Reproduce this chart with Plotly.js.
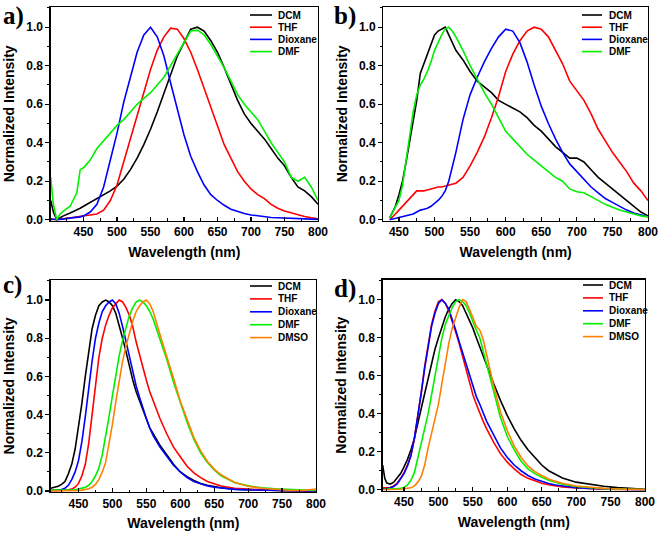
<!DOCTYPE html>
<html><head><meta charset="utf-8">
<script src="https://cdn.plot.ly/plotly-3.0.1.min.js"></script>
<style>html,body{margin:0;padding:0;background:#fff}#chart{width:661px;height:537px}</style>
</head><body><div id="chart"></div>
<script>
// ---------- data ----------
const solventsAB = ['DCM','THF','Dioxane','DMF'];
const solventsCD = ['DCM','THF','Dioxane','DMF','DMSO'];
const panelLabels = ['a)','b)','c)','d)'];

// panel a
const wlA = [401,405,410,415,420,430,440,445,450,460,470,480,490,500,510,520,530,540,550,560,570,580,590,600,610,620,630,640,650,660,670,680,690,700,710,720,730,740,750,760,770,780,790,800];
const dcmA = [0.10,0.04,0.0,0.01,0.02,0.035,0.05,0.06,0.07,0.09,0.11,0.13,0.15,0.175,0.21,0.26,0.32,0.39,0.47,0.56,0.66,0.76,0.85,0.92,0.99,1.0,0.98,0.93,0.87,0.79,0.7,0.62,0.55,0.5,0.46,0.42,0.37,0.32,0.28,0.22,0.17,0.15,0.12,0.08];
const thfA = [0,0,0,0.003,0.005,0.01,0.015,0.018,0.02,0.025,0.03,0.05,0.1,0.18,0.3,0.43,0.55,0.66,0.78,0.88,0.95,0.995,0.99,0.94,0.87,0.78,0.68,0.58,0.48,0.39,0.32,0.25,0.2,0.16,0.13,0.11,0.08,0.06,0.045,0.035,0.025,0.017,0.01,0.005];
const dioxA = [0.005,0.003,0,0.002,0.004,0.008,0.012,0.015,0.02,0.04,0.08,0.17,0.31,0.45,0.61,0.74,0.87,0.96,1.0,0.95,0.85,0.71,0.57,0.44,0.33,0.25,0.18,0.13,0.1,0.075,0.055,0.042,0.032,0.025,0.02,0.015,0.012,0.01,0.008,0.006,0.005,0.004,0.003,0.002];
const dmfA = [0.22,0.08,0.0,0.03,0.045,0.07,0.14,0.26,0.27,0.31,0.37,0.41,0.45,0.49,0.52,0.56,0.6,0.63,0.66,0.7,0.74,0.8,0.86,0.92,0.98,0.985,0.96,0.91,0.85,0.79,0.72,0.65,0.6,0.56,0.52,0.46,0.4,0.35,0.3,0.22,0.2,0.22,0.17,0.1];

// panel b
const wlB = [437,440,445,450,455,460,465,470,475,480,485,490,495,500,505,510,515,520,525,530,540,550,560,570,580,590,600,610,620,630,640,650,660,670,680,690,700,710,720,730,740,750,760,770,780,790,800];
const dcmB = [0.01,0.03,0.07,0.13,0.2,0.3,0.4,0.5,0.62,0.76,0.81,0.85,0.9,0.96,0.98,0.99,1.0,0.96,0.92,0.88,0.83,0.77,0.72,0.69,0.66,0.62,0.6,0.58,0.56,0.53,0.49,0.46,0.42,0.38,0.35,0.32,0.32,0.3,0.26,0.22,0.19,0.16,0.13,0.1,0.07,0.04,0.02];
const thfB = [0,0.01,0.03,0.05,0.07,0.09,0.11,0.13,0.15,0.15,0.15,0.155,0.16,0.165,0.17,0.17,0.175,0.18,0.185,0.19,0.22,0.28,0.35,0.43,0.53,0.64,0.77,0.86,0.93,0.98,1.0,0.99,0.95,0.88,0.81,0.72,0.67,0.62,0.55,0.47,0.41,0.35,0.3,0.25,0.19,0.15,0.1];
const dioxB = [0,0.003,0.006,0.01,0.015,0.02,0.025,0.03,0.04,0.05,0.055,0.06,0.07,0.085,0.1,0.12,0.15,0.2,0.27,0.35,0.52,0.65,0.74,0.82,0.89,0.95,0.99,0.98,0.92,0.82,0.7,0.59,0.5,0.42,0.35,0.29,0.25,0.21,0.17,0.14,0.11,0.09,0.07,0.05,0.035,0.025,0.015];
const dmfB = [0.01,0.03,0.06,0.1,0.18,0.3,0.43,0.56,0.65,0.7,0.73,0.77,0.82,0.88,0.92,0.96,0.99,1.0,0.98,0.95,0.88,0.8,0.73,0.66,0.6,0.53,0.46,0.42,0.38,0.34,0.31,0.28,0.25,0.22,0.2,0.16,0.145,0.14,0.12,0.1,0.08,0.065,0.05,0.04,0.03,0.02,0.015];

// panel c
const wlC = [409,415,420,425,430,435,440,445,450,455,460,465,470,475,480,485,490,495,500,505,510,515,520,525,530,535,540,545,550,555,560,570,580,590,600,610,620,630,640,650,660,680,700,720,740,760,780,800];
const dcmC = [0.015,0.02,0.025,0.035,0.05,0.09,0.14,0.22,0.33,0.46,0.6,0.74,0.85,0.92,0.97,0.99,1.0,0.99,0.97,0.93,0.87,0.8,0.73,0.65,0.58,0.52,0.47,0.42,0.38,0.33,0.3,0.24,0.19,0.14,0.1,0.075,0.055,0.04,0.03,0.022,0.017,0.01,0.007,0.005,0.003,0.002,0.001,0.0];
const thfC = [0.002,0.002,0.003,0.004,0.005,0.007,0.01,0.02,0.04,0.08,0.14,0.25,0.4,0.56,0.7,0.8,0.87,0.92,0.96,0.98,1.0,0.99,0.96,0.92,0.86,0.78,0.71,0.64,0.58,0.52,0.47,0.38,0.3,0.23,0.18,0.13,0.095,0.07,0.05,0.036,0.026,0.015,0.009,0.006,0.004,0.003,0.002,0.001];
const dioxC = [0.003,0.004,0.005,0.008,0.015,0.03,0.06,0.1,0.16,0.26,0.39,0.54,0.68,0.8,0.88,0.94,0.97,0.99,1.0,0.98,0.93,0.86,0.78,0.7,0.62,0.55,0.49,0.43,0.38,0.33,0.29,0.23,0.18,0.135,0.1,0.07,0.05,0.037,0.027,0.02,0.015,0.009,0.006,0.004,0.003,0.002,0.001,0.0];
const dmfC = [0.005,0.005,0.005,0.005,0.005,0.005,0.005,0.007,0.01,0.015,0.02,0.03,0.05,0.08,0.12,0.19,0.28,0.39,0.5,0.61,0.71,0.79,0.86,0.92,0.96,0.99,1.0,0.99,0.97,0.94,0.9,0.8,0.69,0.57,0.46,0.36,0.27,0.2,0.15,0.11,0.08,0.045,0.027,0.017,0.012,0.008,0.005,0.003];
const dmsoC = [0,0,0,0,0,0,0,0.002,0.003,0.005,0.008,0.012,0.02,0.035,0.06,0.1,0.15,0.24,0.35,0.47,0.58,0.68,0.76,0.83,0.89,0.94,0.97,0.99,1.0,0.98,0.94,0.82,0.71,0.59,0.47,0.37,0.28,0.21,0.155,0.115,0.085,0.045,0.025,0.015,0.008,0.004,0.003,0.01];

// panel d
const wlD = [419,422,425,430,435,440,445,450,455,460,465,470,475,480,485,490,495,500,505,510,515,520,525,530,535,540,545,550,555,560,565,570,580,590,600,610,620,630,640,650,660,670,680,700,720,740,760,780,800];
const dcmD = [0.13,0.06,0.035,0.03,0.04,0.06,0.085,0.12,0.16,0.21,0.27,0.35,0.43,0.51,0.59,0.67,0.74,0.8,0.86,0.91,0.95,0.98,1.0,0.99,0.97,0.93,0.89,0.85,0.8,0.75,0.7,0.65,0.56,0.47,0.39,0.32,0.26,0.21,0.17,0.13,0.1,0.08,0.062,0.04,0.027,0.018,0.011,0.006,0.003];
const thfD = [0.01,0.01,0.01,0.012,0.02,0.035,0.06,0.09,0.13,0.18,0.27,0.38,0.51,0.65,0.77,0.87,0.94,0.99,1.0,0.98,0.94,0.89,0.83,0.77,0.7,0.63,0.56,0.5,0.45,0.4,0.36,0.32,0.25,0.19,0.145,0.11,0.08,0.06,0.045,0.034,0.026,0.02,0.015,0.009,0.005,0.003,0.002,0.001,0];
const dioxD = [0.005,0.005,0.006,0.01,0.017,0.03,0.055,0.085,0.125,0.18,0.27,0.38,0.51,0.64,0.76,0.86,0.93,0.98,1.0,0.98,0.95,0.9,0.84,0.78,0.72,0.66,0.6,0.54,0.49,0.45,0.4,0.36,0.29,0.22,0.17,0.13,0.1,0.075,0.057,0.043,0.033,0.025,0.019,0.011,0.007,0.004,0.002,0.001,0];
const dmfD = [0.003,0.003,0.003,0.004,0.005,0.006,0.008,0.012,0.025,0.05,0.09,0.17,0.25,0.32,0.4,0.5,0.6,0.7,0.8,0.87,0.92,0.96,0.99,1.0,0.99,0.97,0.93,0.88,0.84,0.8,0.73,0.66,0.51,0.38,0.28,0.21,0.15,0.11,0.085,0.065,0.05,0.038,0.029,0.017,0.01,0.006,0.004,0.002,0.001];
const dmsoD = [0,0,0,0.001,0.001,0.002,0.003,0.005,0.007,0.01,0.02,0.04,0.07,0.13,0.22,0.3,0.37,0.45,0.56,0.67,0.77,0.85,0.91,0.96,1.0,0.99,0.95,0.9,0.86,0.84,0.79,0.71,0.55,0.41,0.31,0.23,0.17,0.125,0.095,0.075,0.057,0.044,0.034,0.02,0.012,0.007,0.004,0.002,0.001];

const colors = ['#000000','#ff0000','#0000ff','#00f000','#ff8000'];

// ---------- layout geometry (px) ----------
const W = 661, H = 537;
const panels = [
  {x0:50.7, x1:318, y0:7, y1:220.7, xr:[401,800], wl:wlA, ys:[dcmA,thfA,dioxA,dmfA], names:solventsAB,
   leg:{lx0:250, lx1:272, tx:276, y:15, dy:12.2}, lab:{x:1, y:16}},
  {x0:383.3, x1:648, y0:7, y1:220.7, xr:[428,800], wl:wlB, ys:[dcmB,thfB,dioxB,dmfB], names:solventsAB,
   leg:{lx0:582, lx1:602, tx:607, y:15, dy:12.2}, lab:{x:332, y:16}},
  {x0:50.7, x1:316, y0:280, y1:492, xr:[409,800], wl:wlC, ys:[dcmC,thfC,dioxC,dmfC,dmsoC], names:solventsCD,
   leg:{lx0:250, lx1:272, tx:276, y:286, dy:12.9}, lab:{x:1, y:285}},
  {x0:382.7, x1:645, y0:279.7, y1:490.7, xr:[419,800], wl:wlD, ys:[dcmD,thfD,dioxD,dmfD,dmsoD], names:solventsCD,
   leg:{lx0:583, lx1:603, tx:607, y:285, dy:12.9}, lab:{x:332, y:289}}
];

const FONT = 'Liberation Sans, Arial, sans-serif';
const traces = [], shapes = [], annotations = [];
const layout = {
  width: W, height: H, margin:{l:0,r:0,t:0,b:0},
  paper_bgcolor:'#fff', plot_bgcolor:'#fff', showlegend:false,
  font:{family:FONT, color:'#000'}
};

panels.forEach((p, i) => {
  const s = i === 0 ? '' : String(i + 1);
  const xa = 'xaxis' + s, ya = 'yaxis' + s;
  layout[xa] = {
    domain:[p.x0/W, p.x1/W], anchor:'y'+s, range:p.xr,
    tickmode:'linear', tick0:450, dtick:50,
    ticks:'inside', ticklen:4, tickwidth:1.2, tickcolor:'#000',
    minor:{ticks:'inside', ticklen:2.5, tick0:425, dtick:25, tickwidth:1, tickcolor:'#000'},
    showline:true, mirror:true, linecolor:'#000', linewidth:1.3,
    showgrid:false, zeroline:false,
    tickfont:{family:FONT, size:12, weight:'bold', color:'#000'},
    title:{text:'Wavelength (nm)', font:{family:FONT, size:14, weight:'bold', color:'#000'}, standoff:8}
  };
  layout[ya] = {
    domain:[1-p.y1/H, 1-p.y0/H], anchor:'x'+s, range:[-0.005,1.105],
    tickmode:'linear', tick0:0, dtick:0.2, tickformat:'.1f',
    ticks:'outside', ticklen:4, tickwidth:1.2, tickcolor:'#000',
    minor:{ticks:'outside', ticklen:2.5, dtick:0.1, tickwidth:1, tickcolor:'#000'},
    showline:true, mirror:true, linecolor:'#000', linewidth:1.3,
    showgrid:false, zeroline:false,
    tickfont:{family:FONT, size:12, weight:'bold', color:'#000'},
    title:{text:'Normalized Intensity', font:{family:FONT, size:14, weight:'bold', color:'#000'}, standoff:8}
  };
  p.ys.forEach((y, k) => {
    traces.push({x:p.wl, y:y, xaxis:'x'+s, yaxis:'y'+s, type:'scatter', mode:'lines',
      name:p.names[k], line:{color:colors[k], width:1.6}, hoverinfo:'x+y+name'});
    const yy = 1 - (p.leg.y + k*p.leg.dy)/H;
    shapes.push({type:'line', xref:'paper', yref:'paper', x0:p.leg.lx0/W, x1:p.leg.lx1/W, y0:yy, y1:yy,
      line:{color:colors[k], width:1.6}});
    annotations.push({xref:'paper', yref:'paper', x:p.leg.tx/W, y:yy, xanchor:'left', yanchor:'middle',
      text:p.names[k], showarrow:false, font:{family:FONT, size:10, weight:'bold', color:'#000'}});
  });
  annotations.push({xref:'paper', yref:'paper', x:p.lab.x/W, y:1-p.lab.y/H, xanchor:'left', yanchor:'middle',
    text:panelLabels[i], showarrow:false, font:{family:'Liberation Serif, Times New Roman, serif', size:25, weight:'bold', color:'#000'}});
});
layout.shapes = shapes;
layout.annotations = annotations;

Plotly.newPlot('chart', traces, layout, {displayModeBar:false, staticPlot:true});
</script></body></html>
